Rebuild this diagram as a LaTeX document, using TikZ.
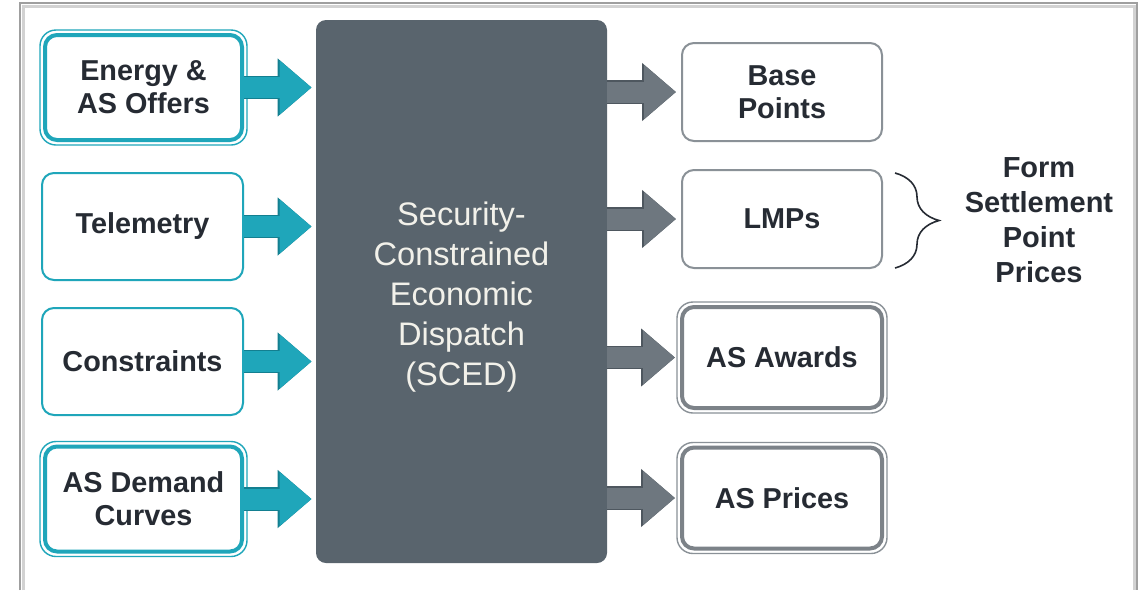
\documentclass[tikz,border=0pt]{standalone}
\usepackage{fontspec}
\setmainfont{Liberation Sans}
\usetikzlibrary{arrows.meta}
\usetikzlibrary{fit}
\usetikzlibrary{decorations.pathreplacing}

\definecolor{tealbox}{HTML}{1FA6BA}
\definecolor{tealline}{HTML}{137F90}
\definecolor{scedgray}{HTML}{59646D}
\definecolor{outgray}{HTML}{6E777F}
\definecolor{outline}{HTML}{4E575F}
\definecolor{boxgray}{HTML}{8A9197}
\definecolor{txt}{HTML}{262B33}
\definecolor{scedtxt}{HTML}{F2F1EA}

\begin{document}
\begin{tikzpicture}[x=0.5pt,y=-0.5pt,
	lbl/.style={align=center, text=txt, font=\fontsize{14.4}{16.5}\selectfont\bfseries},
	inbox/.style={lbl, draw=tealbox, line width=1pt, rounded corners=6pt, fill=white, minimum width=100.5pt, minimum height=53.5pt},
	inboxthick/.style={inbox, line width=2pt, minimum width=98.5pt, minimum height=52.5pt},
	outbox/.style={lbl, draw=boxgray, line width=1pt, rounded corners=6pt, fill=white, minimum width=100pt, minimum height=49pt},
	outboxthick/.style={outbox, line width=2pt, draw=boxgray!90!black, minimum height=50.5pt},
	ring/.style={draw=#1, line width=0.7pt, rounded corners=8pt, inner sep=1.5pt},
	inarrow/.style={line width=10.5pt, draw=tealbox, -{Triangle[length=16pt,width=26pt]}, shorten >=2pt,
		preaction={draw=tealline, line width=11.8pt, -{Triangle[length=17pt,width=28pt]}, shorten >=2pt}},
	outarrow/.style={line width=10.5pt, draw=outgray, -{Triangle[length=16pt,width=26pt]}, shorten >=2.5pt,
		preaction={draw=outline, line width=11.8pt, -{Triangle[length=17pt,width=28pt]}, shorten >=2.5pt}}
]

	\useasboundingbox (0,0) rectangle (1142,590);
	\fill[white] (0,0) rectangle (1142,590);

	\draw[gray!35, line width=1.5pt] (23,590) -- (23,6) -- (1134,6) -- (1134,590);
	\draw[gray!75, line width=1.2pt] (20,590) -- (20,3) -- (1137,3) -- (1137,590);

	\node[fill=scedgray, rounded corners=5pt, minimum width=145.5pt, minimum height=271.5pt] (sced) at (461.5,291.5) {};
	\node[align=center, text=scedtxt, font=\fontsize{16.3}{20}\selectfont] (scedlabel) at ([yshift=-3pt]sced.center)
		{Security-\\Constrained\\Economic\\Dispatch\\(SCED)};

	\node[inboxthick] (offers) at (143.5,87.5) {Energy \&\\AS Offers};
	\node[inbox] (telemetry) at (142.5,226.5) {Telemetry};
	\node[inbox] (constraints) at (142.5,361.5) {Constraints};
	\node[inboxthick] (demand) at (143.5,499) {AS Demand\\Curves};

	\node[ring=tealbox, fit=(offers)] (offersring) {};
	\node[ring=tealbox, fit=(demand)] (demandring) {};

	\node[outbox] (base) at (782,92) {Base\\Points};
	\node[outbox] (lmps) at (782,219) {LMPs};
	\node[outboxthick] (awards) at (782,357.5) {AS Awards};
	\node[outboxthick] (prices) at (782,498) {AS Prices};

	\node[ring=boxgray, fit=(awards)] (awardsring) {};
	\node[ring=boxgray, fit=(prices)] (pricesring) {};

	\draw[inarrow] (offers.east) -- (offers.east -| sced.west);
	\draw[inarrow] (telemetry.east) -- (telemetry.east -| sced.west);
	\draw[inarrow] (constraints.east) -- (constraints.east -| sced.west);
	\draw[inarrow] (demand.east) -- (demand.east -| sced.west);

	\draw[outarrow] (sced.east |- base.west) -- (base.west);
	\draw[outarrow] (sced.east |- lmps.west) -- (lmps.west);
	\draw[outarrow] (sced.east |- awards.west) -- (awards.west);
	\draw[outarrow] (sced.east |- prices.west) -- (prices.west);

	\coordinate (brtop) at (895,173);
	\coordinate (brbot) at (895,268);
	\draw[txt, line width=0.8pt, decoration={brace, amplitude=22pt}, decorate] (brtop) -- (brbot);

	\node[align=center, text=txt, font=\fontsize{14.5}{17.5}\selectfont\bfseries] (settle) at (1039,220)
		{Form\\Settlement\\Point\\Prices};

\end{tikzpicture}
\end{document}
